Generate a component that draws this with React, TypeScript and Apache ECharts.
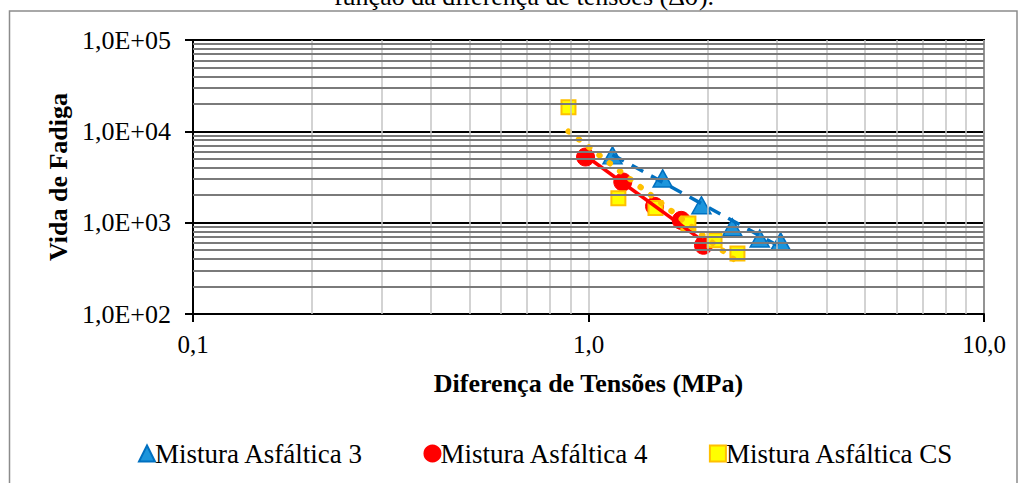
import React, { useEffect, useRef } from "react";
import * as echarts from "echarts";

// Mistura Asfáltica 3
const m3X = [1.15, 1.54, 1.93, 2.31, 2.71, 3.06];
const m3Y = [5460, 3050, 1550, 890, 670, 625];
// Mistura Asfáltica 4
const m4X = [0.983, 1.221, 1.469, 1.716, 1.953];
const m4Y = [5230, 2790, 1510, 1060, 565];
// Mistura Asfáltica CS
const csX = [0.89, 1.19, 1.477, 1.789, 2.083, 2.38];
const csY = [18300, 1845, 1450, 980, 640, 460];

// power trend lines (end points)
const t3X = [1.15, 3.06];
const t3Y = [5550, 540];
const t4X = [0.983, 1.953];
const t4Y = [5400, 625];
const tcsX = [0.89, 2.38];
const tcsY = [10000, 370];

const seriesNames = ["Mistura Asfáltica 3", "Mistura Asfáltica 4", "Mistura Asfáltica CS"];
const xMinor = [0.2, 0.3, 0.4, 0.5, 0.6, 0.7, 0.8, 0.9, 2, 3, 4, 5, 6, 7, 8, 9];
const yMinor = [
  200, 300, 400, 500, 600, 700, 800, 900,
  2000, 3000, 4000, 5000, 6000, 7000, 8000, 9000,
  20000, 30000, 40000, 50000, 60000, 70000, 80000, 90000,
];

const titleText = "função da diferença de tensões (Δσ).";
const xTitle = "Diferença de Tensões (MPa)";
const yTitle = "Vida de Fadiga";

const FONT = "Liberation Serif";

const zip = (xs: number[], ys: number[]) => xs.map((x, i) => [x, ys[i]]);

export default function App() {
  const ref = useRef<HTMLDivElement>(null);
  useEffect(() => {
    if (!ref.current) return;
    const chart = echarts.init(ref.current, null, { renderer: "svg" });
    const option: any = {
      animation: false,
      backgroundColor: "#ffffff",
      textStyle: { fontFamily: FONT, color: "#000" },
      graphic: [
        {
          type: "rect",
          shape: { x: 9.5, y: 11, width: 1007.5, height: 490 },
          style: { fill: "none", stroke: "#8c8c8c", lineWidth: 1.5 },
          z: 0,
        },
        {
          type: "text",
          x: 524,
          y: -4,
          style: {
            text: titleText,
            font: `26px "${FONT}"`,
            fill: "#000",
            align: "center",
            verticalAlign: "middle",
          },
        },
      ],
      grid: {
        left: 193,
        right: 38,
        top: 40,
        bottom: 169,
        show: true,
        borderColor: "#000",
        borderWidth: 2,
        backgroundColor: "transparent",
      },
      legend: {
        data: seriesNames,
        left: 133,
        top: 435,
        itemWidth: 16,
        itemHeight: 16,
        itemGap: 60,
        textStyle: { fontFamily: FONT, fontSize: 27, color: "#000", padding: [0, 0, 0, -5] },
      },
      xAxis: {
        type: "log",
        logBase: 10,
        min: 0.1,
        max: 10,
        name: xTitle,
        nameLocation: "middle",
        nameGap: 56,
        nameTextStyle: { fontFamily: FONT, fontSize: 26, fontWeight: "bold", color: "#000" },
        axisLine: { show: true, onZero: false, lineStyle: { color: "#000", width: 2 } },
        axisTick: { show: true, inside: false, length: 8, lineStyle: { color: "#000", width: 2 } },
        axisLabel: {
          margin: 18,
          fontFamily: FONT,
          fontSize: 25,
          color: "#000",
          formatter: (v: number) => v.toFixed(1).replace(".", ","),
        },
        splitLine: { show: true, lineStyle: { color: "#C4C4C4", width: 1.5 } },
        minorTick: { show: false },
      },
      yAxis: {
        type: "log",
        logBase: 10,
        min: 100,
        max: 100000,
        name: yTitle,
        nameLocation: "middle",
        nameRotate: 90,
        nameGap: 119,
        nameTextStyle: { fontFamily: FONT, fontSize: 26, fontWeight: "bold", color: "#000" },
        axisLine: { show: true, onZero: false, lineStyle: { color: "#000", width: 2 } },
        axisTick: { show: true, inside: false, length: 8, lineStyle: { color: "#000", width: 2 } },
        axisLabel: {
          margin: 22,
          fontFamily: FONT,
          fontSize: 26,
          color: "#000",
          formatter: (v: number) => {
            const e = Math.round(Math.log10(v));
            return "1,0E+" + String(e).padStart(2, "0");
          },
        },
        splitLine: { show: true, lineStyle: { color: "#000", width: 2 } },
      },
      series: [
        {
          name: "grid-minor",
          type: "line",
          data: [],
          z: 1,
          silent: true,
          markLine: {
            silent: true,
            symbol: ["none", "none"],
            label: { show: false },
            emphasis: { disabled: true },
            data: [
              ...xMinor.map((v) => ({ xAxis: v, lineStyle: { color: "#C4C4C4", width: 1.5, type: "solid", opacity: 1 } })),
              ...yMinor.map((v) => ({ yAxis: v, lineStyle: { color: "#7A7A7A", width: 2, type: "solid", opacity: 1 } })),
            ],
          },
        },
        {
          name: seriesNames[0],
          type: "scatter",
          z: 3,
          symbol: "triangle",
          symbolSize: [19, 17],
          itemStyle: { color: "#1C95DC", borderColor: "#0070C0", borderWidth: 1.5, opacity: 1 },
          data: zip(m3X, m3Y),
        },
        {
          name: seriesNames[1],
          type: "scatter",
          z: 3,
          symbol: "circle",
          symbolSize: 18,
          itemStyle: { color: "#FF0000", borderColor: "#FF0000", borderWidth: 1, opacity: 1 },
          data: zip(m4X, m4Y),
        },
        {
          name: seriesNames[2],
          type: "scatter",
          z: 3,
          symbol: "rect",
          symbolSize: 14,
          itemStyle: { color: "#FFFF00", borderColor: "#FFC000", borderWidth: 2, opacity: 1 },
          data: zip(csX, csY),
        },
        {
          name: "trend3",
          type: "line",
          z: 4,
          symbol: "none",
          silent: true,
          lineStyle: { color: "#0070C0", width: 3.5, type: [13, 9], cap: "butt" },
          data: zip(t3X, t3Y),
        },
        {
          name: "trend4",
          type: "line",
          z: 4,
          symbol: "none",
          silent: true,
          lineStyle: { color: "#FF0000", width: 3.5, type: "solid" },
          data: zip(t4X, t4Y),
        },
        {
          name: "trendCS",
          type: "line",
          z: 4,
          symbol: "none",
          silent: true,
          lineStyle: { color: "#FFC000", width: 6, type: [0.5, 12.5], cap: "round" },
          data: zip(tcsX, tcsY),
        },
      ],
    };
    chart.setOption(option);
    return () => chart.dispose();
  }, []);
  return (
    <div
      ref={ref}
      style={{ position: "fixed", left: 0, top: 0, width: 1022, height: 483, background: "#fff" }}
    />
  );
}
